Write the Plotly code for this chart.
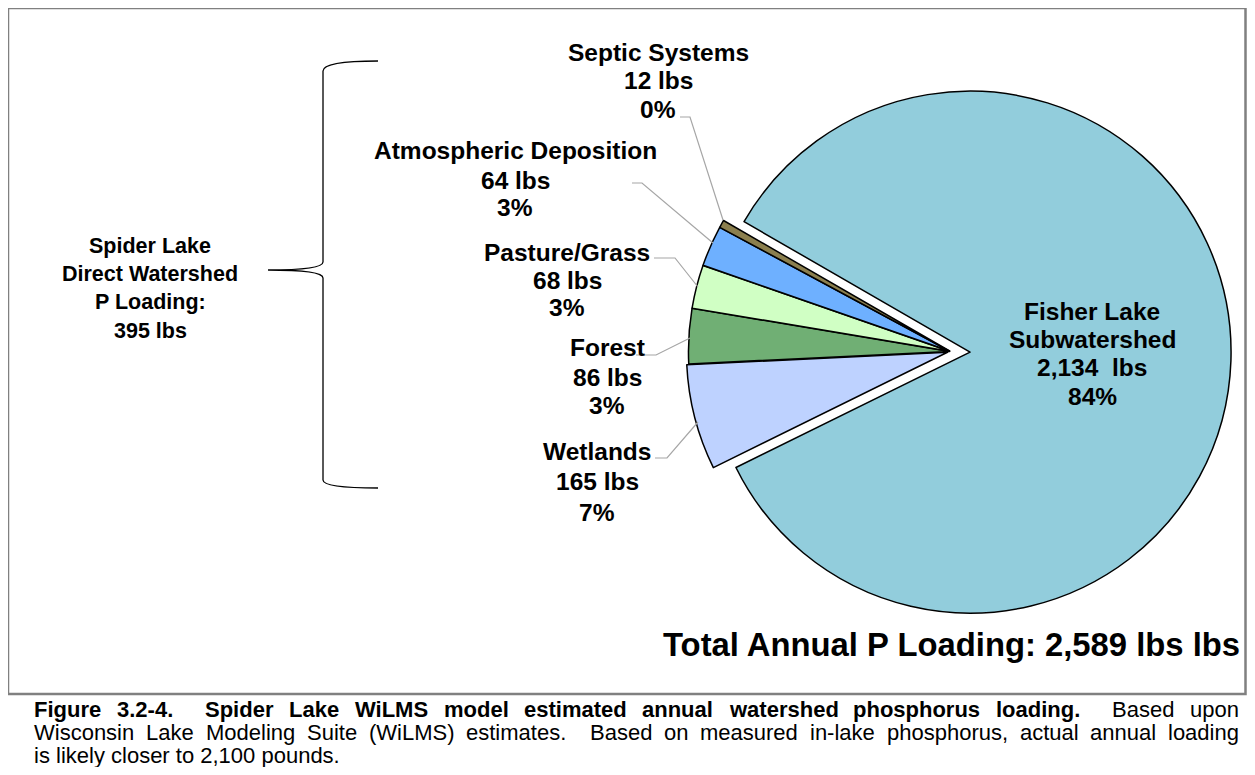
import plotly.graph_objects as go

# ---------------- data ----------------
categories = ["Fisher Lake Subwatershed", "Wetlands", "Forest", "Pasture/Grass",
              "Atmospheric Deposition", "Septic Systems"]
loads_lbs = [2134, 165, 86, 68, 64, 12]
total_label_lbs = 2589
direct_sources = categories[1:]

caption_bold = "Figure 3.2-4.  Spider Lake WiLMS model estimated annual watershed phosphorus loading."
caption_rest_1 = "Based upon"
caption_line_2 = "Wisconsin Lake Modeling Suite (WiLMS) estimates.  Based on measured in-lake phosphorus, actual annual loading"
caption_line_3 = "is likely closer to 2,100 pounds."

# ---------------- styles ----------------
slice_colors = ["#92CDDC", "#BED2FF", "#70AF74", "#D0FFC4", "#6EB0FF", "#8B7F4E"]
slice_pull = [0.075, 0.012, 0.004, 0.004, 0.004, 0.004]
FONT = "Liberation Sans, Arial, Helvetica, sans-serif"
OFF = 8                              # page body margin
W, H = 1255 - 2 * OFF, 775 - 2 * OFF  # figure size (fits the window without scrolling)


def X(px):
    return (px - OFF) / W


def Y(py):
    return 1 - (py - OFF) / H


total = sum(loads_lbs)
pcts = [round(v / total * 100) for v in loads_lbs]
direct_total = sum(loads_lbs[1:])

# pie geometry (page pixels): unpulled centre and radius
PCX, PCY, PR, PMAXPULL = 950.5, 351.5, 261.0, slice_pull[0]
half_box = PR * (1 + PMAXPULL)
dom_y = [Y(PCY + half_box), Y(PCY - half_box)]
dom_x = [X(PCX - half_box - 10), X(PCX + half_box + 10)]

fig = go.Figure()
fig.add_trace(go.Pie(
    labels=categories, values=loads_lbs, sort=False, direction="clockwise",
    rotation=-60, pull=slice_pull, textinfo="none", hoverinfo="label+value+percent",
    marker=dict(colors=slice_colors, line=dict(color="black", width=1.5)),
    domain=dict(x=dom_x, y=dom_y),
    showlegend=False,
))

annotations = []


def add_text(x, y, text, size, bold=True, xanchor="center"):
    annotations.append(dict(
        x=X(x), y=Y(y), xref="paper", yref="paper", text=text, showarrow=False,
        xanchor=xanchor, yanchor="middle",
        font=dict(family=FONT, size=size, color="black", weight=700 if bold else 400),
    ))


LABEL_SIZE = 24.5
# slice labels
label_layout = {
    "Septic Systems": (658, [52, 80, 109]),
    "Atmospheric Deposition": (515, [151, 180, 208]),
    "Pasture/Grass": (567, [252, 281, 308]),
    "Forest": (607, [348, 377, 405]),
    "Wetlands": (597, [452, 481, 512]),
}
for cat, v, p in zip(categories[1:], loads_lbs[1:], pcts[1:]):
    cx, ys = label_layout[cat]
    for y, t in zip(ys, [cat, f"{v} lbs", f"{p}%"]):
        add_text(cx, y, t, LABEL_SIZE)

fisher_lines = ["Fisher Lake", "Subwatershed", f"{loads_lbs[0]:,}\u00a0\u00a0lbs", f"{pcts[0]}%"]
for y, t in zip([311, 339, 367, 396], fisher_lines):
    add_text(1092, y, t, LABEL_SIZE)

spider_lines = ["Spider Lake", "Direct Watershed", "P Loading:", f"{direct_total} lbs"]
for y, t in zip([246, 274, 302, 331], spider_lines):
    add_text(150, y, t, 21.5)

add_text(1242, 644, f"Total Annual P Loading: {total_label_lbs:,} lbs lbs", 32.8, xanchor="right")

# ---------------- caption with justification ----------------
REG = {' ': 278, '(': 333, ')': 333, ',': 278, '-': 333, '.': 278, ':': 278,
       'A': 667, 'B': 667, 'C': 722, 'D': 722, 'E': 667, 'F': 611, 'G': 778, 'H': 722,
       'I': 278, 'J': 500, 'K': 667, 'L': 556, 'M': 833, 'N': 722, 'O': 778, 'P': 667,
       'Q': 778, 'R': 722, 'S': 667, 'T': 611, 'U': 722, 'V': 667, 'W': 944, 'X': 667,
       'Y': 667, 'Z': 611,
       'a': 556, 'b': 556, 'c': 500, 'd': 556, 'e': 556, 'f': 278, 'g': 556, 'h': 556,
       'i': 222, 'j': 222, 'k': 500, 'l': 222, 'm': 833, 'n': 556, 'o': 556, 'p': 556,
       'q': 556, 'r': 333, 's': 500, 't': 278, 'u': 556, 'v': 500, 'w': 722, 'x': 500,
       'y': 500, 'z': 500}
BOLD = {' ': 278, '(': 333, ')': 333, ',': 278, '-': 333, '.': 278, ':': 333,
        'A': 722, 'B': 722, 'C': 722, 'D': 722, 'E': 667, 'F': 611, 'G': 778, 'H': 722,
        'I': 278, 'J': 556, 'K': 722, 'L': 611, 'M': 833, 'N': 722, 'O': 778, 'P': 667,
        'Q': 778, 'R': 722, 'S': 667, 'T': 611, 'U': 722, 'V': 667, 'W': 944, 'X': 667,
        'Y': 667, 'Z': 611,
        'a': 556, 'b': 611, 'c': 556, 'd': 611, 'e': 556, 'f': 333, 'g': 611, 'h': 611,
        'i': 278, 'j': 278, 'k': 556, 'l': 278, 'm': 889, 'n': 611, 'o': 611, 'p': 611,
        'q': 611, 'r': 389, 's': 556, 't': 333, 'u': 611, 'v': 556, 'w': 778, 'x': 556,
        'y': 556, 'z': 500}
for d in (REG, BOLD):
    for c in "0123456789":
        d[c] = 556

CAP_SIZE = 22
CAP_LEFT, CAP_RIGHT = 32, 1237


def tw(s, bold):
    table = BOLD if bold else REG
    return sum(table.get(c, 556) for c in s) * CAP_SIZE / 1000.0


def tokens(text, bold):
    out = []
    parts = text.split(" ")
    i = 0
    while i < len(parts):
        word = parts[i]
        nsp = 0
        j = i + 1
        while j < len(parts) and parts[j] == "":
            nsp += 1
            j += 1
        if j < len(parts):
            nsp += 1
        out.append([word, bold, nsp])
        i = j
    return out


def justify(toks, y):
    toks[-1][2] = 0
    words_w = sum(tw(w, b) for w, b, _ in toks)
    n_sp = sum(n for _, _, n in toks)
    sp_nat = tw(" ", False)
    extra = (CAP_RIGHT - CAP_LEFT - words_w - n_sp * sp_nat) / n_sp
    x = CAP_LEFT
    for w, b, n in toks:
        add_text(x, y, w, CAP_SIZE, bold=b, xanchor="left")
        x += tw(w, b) + n * (sp_nat + extra)


line1 = tokens(caption_bold, True)
line1[-1][2] = 2
line1 += tokens(caption_rest_1, False)
justify(line1, 709)
justify(tokens(caption_line_2, False), 732)
add_text(CAP_LEFT, 755, caption_line_3, CAP_SIZE, bold=False, xanchor="left")

# ---------------- shapes ----------------
shapes = []
shapes.append(dict(type="rect", xref="paper", yref="paper",
                   x0=X(8), x1=X(1245.5), y0=Y(8), y1=Y(694),
                   line=dict(color="#808080", width=2.5), fillcolor="rgba(0,0,0,0)"))

leader_pts = {
    "Septic Systems": [(680, 117), (690, 117), (723, 220)],
    "Atmospheric Deposition": [(632, 183), (642, 183), (713, 243)],
    "Pasture/Grass": [(654, 258), (675, 258), (698, 287)],
    "Forest": [(636, 355), (656, 355), (690, 338)],
    "Wetlands": [(655, 458), (667, 458), (698, 422)],
}
for cat in direct_sources:
    pts = leader_pts[cat]
    path = "M " + " L ".join(f"{X(a):.5f},{Y(b):.5f}" for a, b in pts)
    shapes.append(dict(type="path", xref="paper", yref="paper", path=path,
                       line=dict(color="#A6A6A6", width=1.2)))

brace = [("M", [(378, 61)]),
         ("C", [(348, 61), (323, 63), (323, 71)]),
         ("L", [(323, 262)]),
         ("C", [(323, 268), (300, 270), (268, 270)]),
         ("C", [(300, 270), (323, 272), (323, 278)]),
         ("L", [(323, 480)]),
         ("C", [(323, 486), (348, 488), (378, 488)])]
bpath = " ".join(cmd + " " + " ".join(f"{X(a):.5f},{Y(b):.5f}" for a, b in pts) for cmd, pts in brace)
shapes.append(dict(type="path", xref="paper", yref="paper", path=bpath,
                   line=dict(color="black", width=1.3)))

fig.update_layout(
    width=W, height=H, margin=dict(l=0, r=0, t=0, b=0),
    paper_bgcolor="white", plot_bgcolor="white",
    annotations=annotations, shapes=shapes,
    font=dict(family=FONT),
)
fig.write_html("out.html")
